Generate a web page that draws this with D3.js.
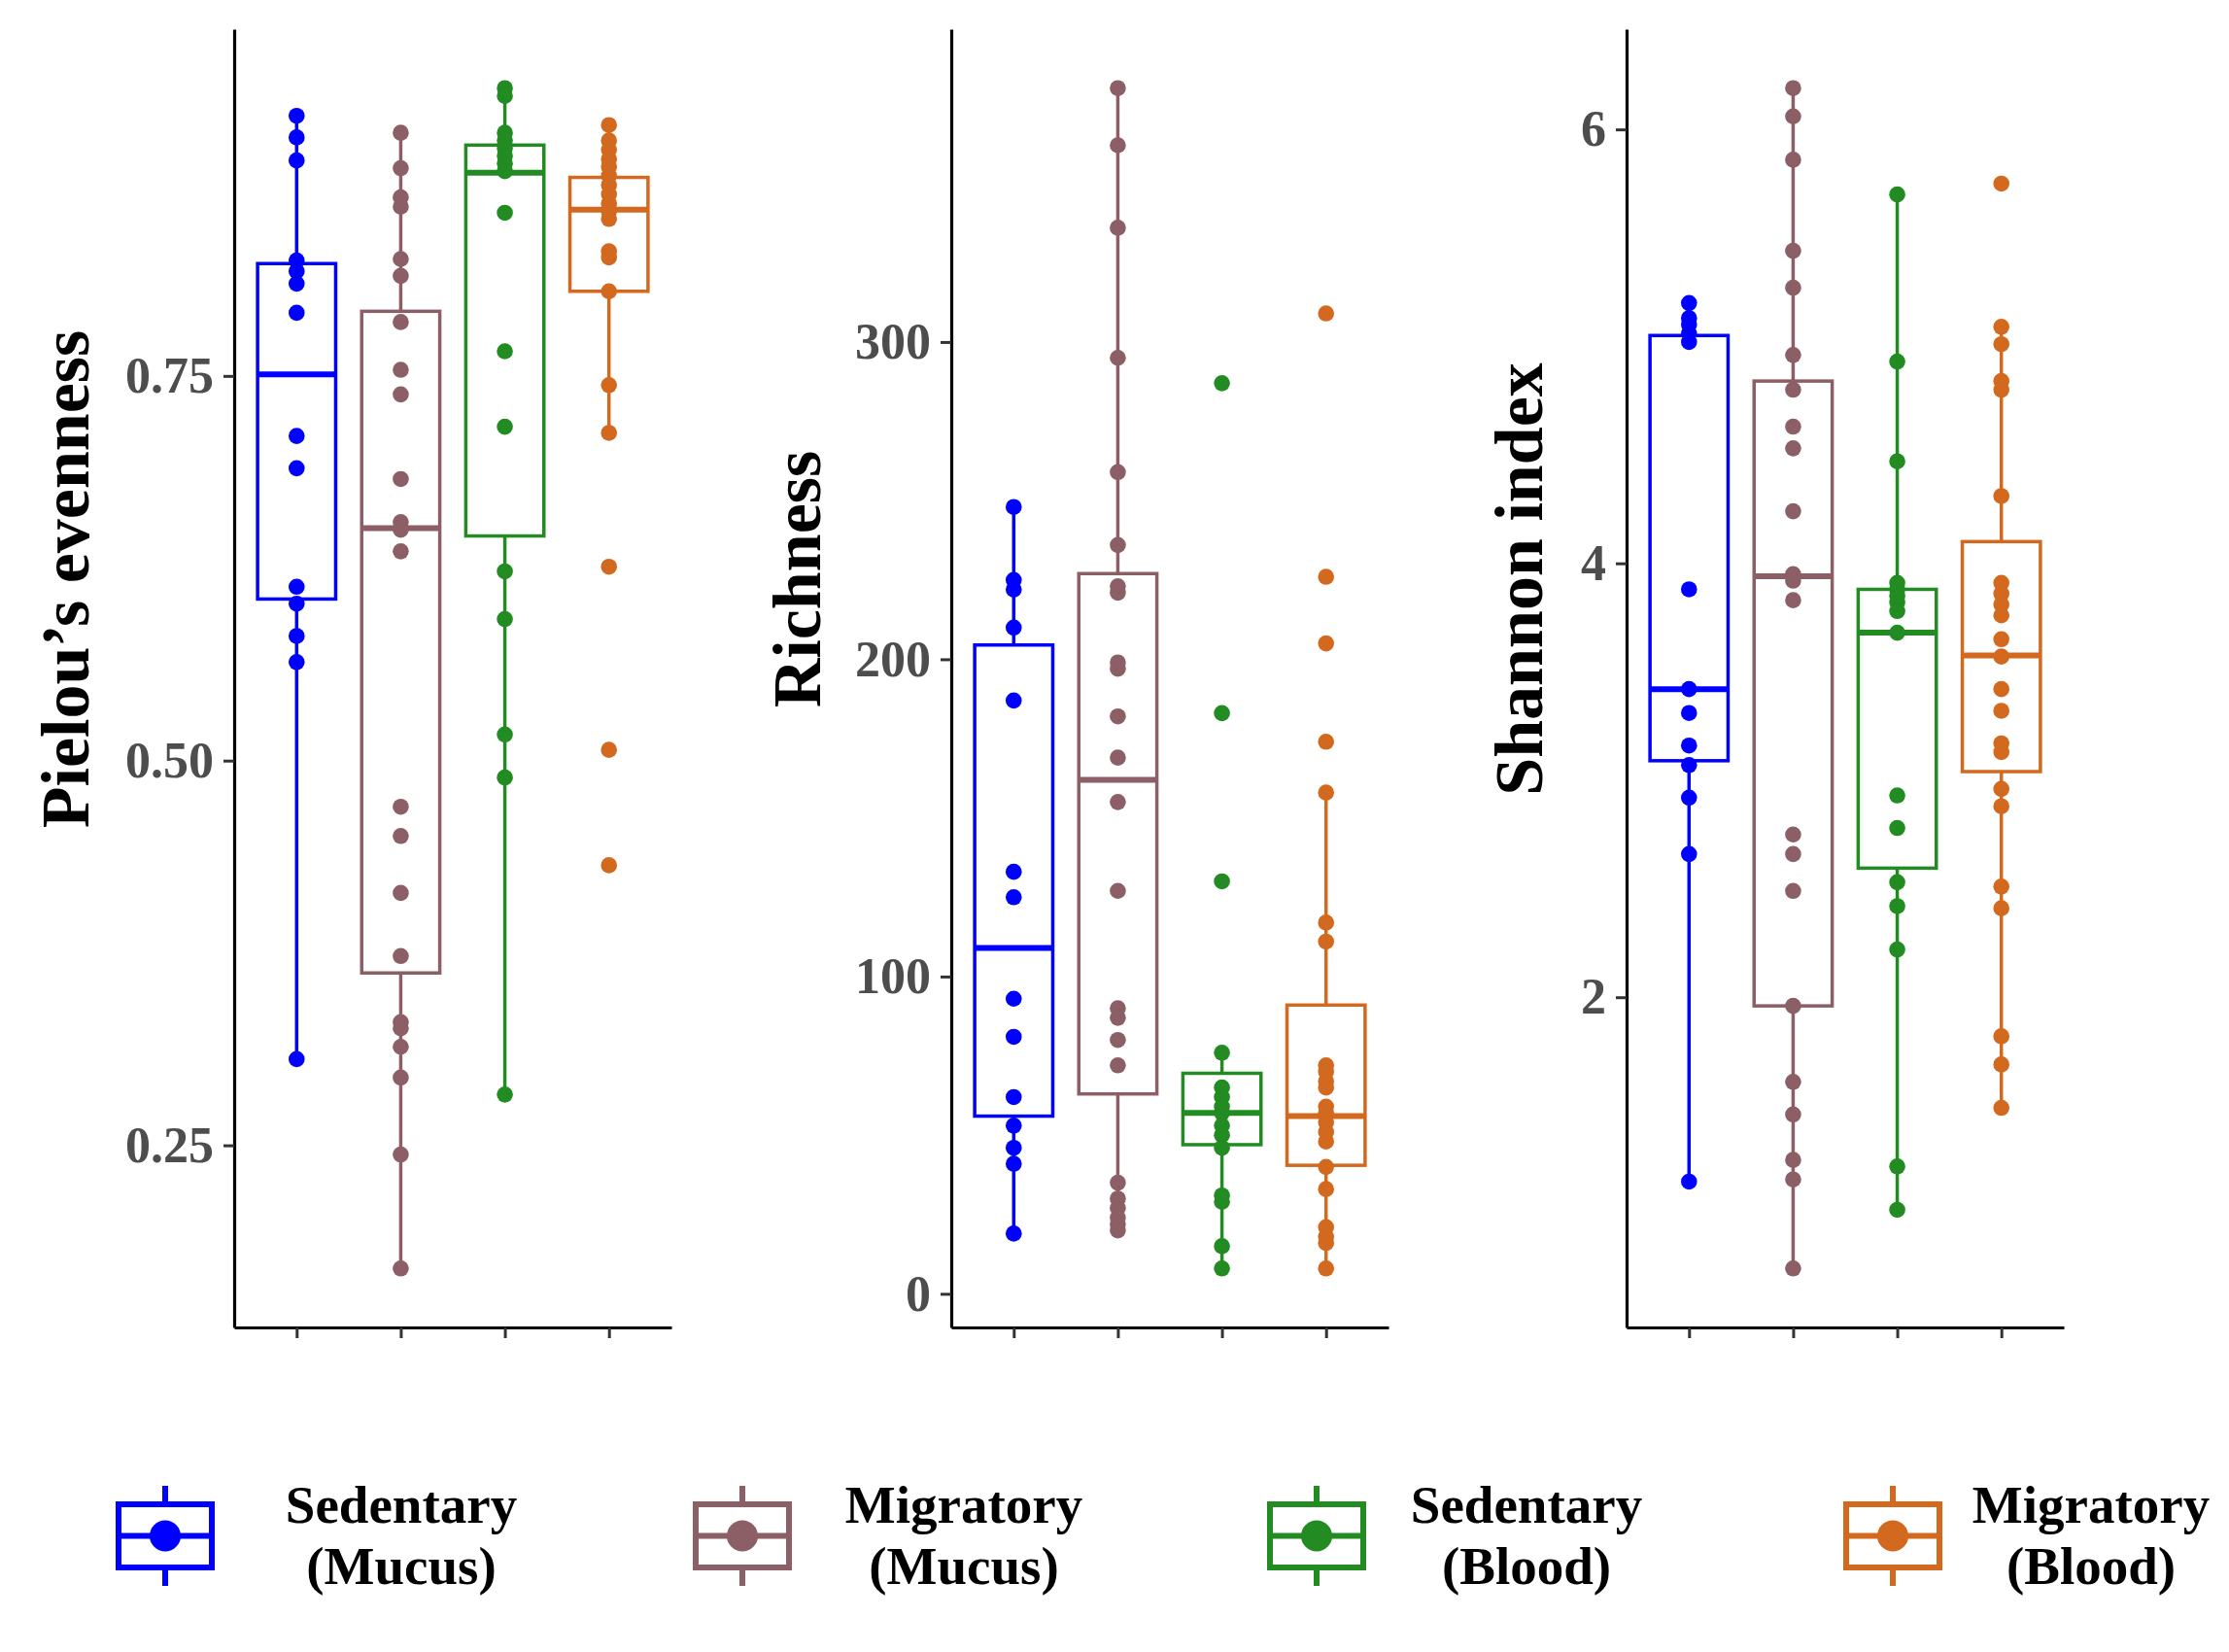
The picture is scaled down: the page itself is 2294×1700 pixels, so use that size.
<!DOCTYPE html>
<html>
<head>
<meta charset="utf-8">
<script src="https://cdn.jsdelivr.net/npm/d3@7"></script>
<style>
  html, body { margin: 0; padding: 0; background: #ffffff; }
  svg { display: block; }
</style>
</head>
<body>
<script>
// ---------------- DATA ----------------
const categories = ["Sedentary (Mucus)", "Migratory (Mucus)", "Sedentary (Blood)", "Migratory (Blood)"];
const legendLine1 = ["Sedentary", "Migratory", "Sedentary", "Migratory"];
const legendLine2 = ["(Mucus)", "(Mucus)", "(Blood)", "(Blood)"];
const groupColors = ["#0000FF", "#8B5F65", "#228B22", "#D2691E"];

// Pielou's evenness
const pielouPoints = [
  [0.919, 0.905, 0.890, 0.825, 0.818, 0.810, 0.791, 0.711, 0.690, 0.613, 0.602, 0.581, 0.564, 0.306],
  [0.908, 0.885, 0.866, 0.860, 0.826, 0.815, 0.785, 0.754, 0.738, 0.683, 0.655, 0.650, 0.636, 0.470, 0.451, 0.414, 0.373, 0.330, 0.326, 0.314, 0.294, 0.244, 0.170],
  [0.937, 0.932, 0.908, 0.903, 0.898, 0.893, 0.888, 0.883, 0.856, 0.766, 0.717, 0.623, 0.592, 0.517, 0.489, 0.283],
  [0.913, 0.903, 0.897, 0.891, 0.886, 0.880, 0.874, 0.868, 0.862, 0.857, 0.852, 0.831, 0.827, 0.805, 0.744, 0.713, 0.626, 0.507, 0.432]
];
// [lower whisker, Q1, median, Q3, upper whisker]
const pielouStats = [
  [0.306, 0.605, 0.751, 0.823, 0.919],
  [0.170, 0.362, 0.651, 0.792, 0.908],
  [0.283, 0.646, 0.882, 0.900, 0.937],
  [0.713, 0.805, 0.858, 0.879, 0.913]
];
const pielouTicks = [0.25, 0.50, 0.75];
const pielouTickLabels = ["0.25", "0.50", "0.75"];

// Richness
const richnessPoints = [
  [248, 225, 222, 210, 187, 133, 125, 93, 81, 62, 53, 46, 41, 19],
  [380, 362, 336, 295, 259, 236, 223, 221, 199, 197, 182, 169, 155, 127, 90, 87, 80, 72, 35, 30, 27, 24, 22, 20],
  [287, 183, 130, 76, 65, 62, 59, 57, 53, 50, 46, 31, 29, 15, 8],
  [309, 226, 205, 174, 158, 117, 111, 72, 70, 67, 65, 59, 57, 54, 51, 48, 40, 33, 21, 18, 16, 8]
];
const richnessStats = [
  [19, 56, 109, 204.5, 248],
  [20, 63, 162, 227, 380],
  [8, 47, 57, 69.5, 76],
  [8, 40.5, 56, 91, 158]
];
const richnessTicks = [0, 100, 200, 300];
const richnessTickLabels = ["0", "100", "200", "300"];

// Shannon index
const shannonPoints = [
  [5.20, 5.13, 5.10, 5.06, 5.02, 3.88, 3.42, 3.31, 3.16, 3.07, 2.92, 2.66, 1.15],
  [6.19, 6.06, 5.86, 5.44, 5.27, 4.96, 4.80, 4.63, 4.53, 4.24, 3.95, 3.92, 3.83, 2.75, 2.66, 2.49, 1.96, 1.61, 1.46, 1.25, 1.16, 0.75],
  [5.70, 4.93, 4.47, 3.91, 3.88, 3.85, 3.82, 3.78, 3.68, 2.93, 2.78, 2.53, 2.42, 2.22, 1.22, 1.02],
  [5.75, 5.09, 5.01, 4.84, 4.80, 4.31, 3.91, 3.86, 3.81, 3.76, 3.65, 3.57, 3.42, 3.32, 3.17, 3.13, 2.96, 2.88, 2.51, 2.41, 1.82, 1.69, 1.49]
];
const shannonStats = [
  [1.15, 3.09, 3.42, 5.05, 5.20],
  [0.75, 1.96, 3.94, 4.84, 6.19],
  [1.02, 2.595, 3.68, 3.88, 5.70],
  [1.49, 3.04, 3.575, 4.10, 5.09]
];
const shannonTicks = [2, 4, 6];
const shannonTickLabels = ["2", "4", "6"];

const panelTitles = ["Pielou\u2019s evenness", "Richness", "Shannon index"];

// ---------------- LAYOUT ----------------
const W = 2294, H = 1700;
const FONT = "'Liberation Serif', 'Times New Roman', Times, serif";
const panelLeft = [241, 979, 1674];
const panelWidth = 450;
const panelTop = 30, panelBottom = 1366;
const titleX = [91, 844, 1587];
const titleY = 596;

const panels = [
  { points: pielouPoints, stats: pielouStats, ticks: pielouTicks, labels: pielouTickLabels },
  { points: richnessPoints, stats: richnessStats, ticks: richnessTicks, labels: richnessTickLabels },
  { points: shannonPoints, stats: shannonStats, ticks: shannonTicks, labels: shannonTickLabels }
];

const svg = d3.select("body").append("svg")
  .attr("width", W).attr("height", H)
  .attr("viewBox", `0 0 ${W} ${H}`);

svg.append("rect").attr("width", W).attr("height", H).attr("fill", "#ffffff");

const x = d3.scalePoint().domain(categories).range([0, panelWidth]).padding(0.6);
const boxW = x.step() * 0.75;

panels.forEach((p, pi) => {
  const all = p.points.flat();
  const ext = d3.extent(all);
  const pad = (ext[1] - ext[0]) * 0.05;
  const y = d3.scaleLinear().domain([ext[0] - pad, ext[1] + pad]).range([panelBottom, panelTop]);

  const g = svg.append("g").attr("transform", `translate(${panelLeft[pi]},0)`);

  // boxes
  categories.forEach((c, ci) => {
    const s = p.stats[ci];
    const cx = x(c);
    const col = groupColors[ci];
    const bg = g.append("g");
    // whiskers
    bg.append("line").attr("x1", cx).attr("x2", cx)
      .attr("y1", y(s[3])).attr("y2", y(s[4]))
      .attr("stroke", col).attr("stroke-width", 3.5);
    bg.append("line").attr("x1", cx).attr("x2", cx)
      .attr("y1", y(s[1])).attr("y2", y(s[0]))
      .attr("stroke", col).attr("stroke-width", 3.5);
    // box
    bg.append("rect")
      .attr("x", cx - boxW / 2).attr("width", boxW)
      .attr("y", y(s[3])).attr("height", y(s[1]) - y(s[3]))
      .attr("fill", "#ffffff").attr("stroke", col).attr("stroke-width", 3.5);
    // median
    bg.append("line")
      .attr("x1", cx - boxW / 2).attr("x2", cx + boxW / 2)
      .attr("y1", y(s[2])).attr("y2", y(s[2]))
      .attr("stroke", col).attr("stroke-width", 6);
    // points
    bg.selectAll("circle").data(p.points[ci]).join("circle")
      .attr("cx", cx).attr("cy", d => y(d)).attr("r", 8.3)
      .attr("fill", col);
  });

  // y axis
  const yAxis = d3.axisLeft(y).tickValues(p.ticks)
    .tickFormat((d, i) => p.labels[i]).tickSize(11).tickSizeOuter(0).tickPadding(10);
  const ya = g.append("g").call(yAxis);
  ya.select(".domain").attr("stroke", "#000").attr("stroke-width", 3.2);
  ya.selectAll(".tick line").attr("stroke", "#333").attr("stroke-width", 3);
  ya.selectAll(".tick text")
    .attr("fill", "#4D4D4D")
    .style("font-family", FONT).style("font-weight", "bold").style("font-size", "52px");

  // x axis
  const xAxis = d3.axisBottom(x).tickFormat("").tickSize(11).tickSizeOuter(0);
  const xa = g.append("g").attr("transform", `translate(0,${panelBottom})`).call(xAxis);
  xa.select(".domain").attr("stroke", "#000").attr("stroke-width", 3.2);
  xa.selectAll(".tick line").attr("stroke", "#333").attr("stroke-width", 3);

  // axis title
  svg.append("text")
    .attr("transform", `translate(${titleX[pi]},${titleY}) rotate(-90)`)
    .attr("text-anchor", "middle")
    .style("font-family", FONT).style("font-weight", "bold").style("font-size", "70px")
    .attr("fill", "#000")
    .text(panelTitles[pi]);
});

// ---------------- LEGEND ----------------
const keyX = [170, 764, 1355, 1948];
const textX = [413, 992, 1571, 2152];
const keyW = 96, keyH = 65, keyTop = 1548, whisk = 19;
categories.forEach((c, i) => {
  const col = groupColors[i];
  const lg = svg.append("g");
  const kx = keyX[i];
  lg.append("line").attr("x1", kx).attr("x2", kx).attr("y1", keyTop - whisk).attr("y2", keyTop)
    .attr("stroke", col).attr("stroke-width", 6);
  lg.append("line").attr("x1", kx).attr("x2", kx).attr("y1", keyTop + keyH).attr("y2", keyTop + keyH + whisk)
    .attr("stroke", col).attr("stroke-width", 6);
  lg.append("rect").attr("x", kx - keyW / 2).attr("y", keyTop).attr("width", keyW).attr("height", keyH)
    .attr("fill", "#fff").attr("stroke", col).attr("stroke-width", 6);
  lg.append("line").attr("x1", kx - keyW / 2).attr("x2", kx + keyW / 2)
    .attr("y1", keyTop + keyH / 2).attr("y2", keyTop + keyH / 2)
    .attr("stroke", col).attr("stroke-width", 6);
  lg.append("circle").attr("cx", kx).attr("cy", keyTop + keyH / 2).attr("r", 16).attr("fill", col);

  const t = lg.append("text")
    .attr("text-anchor", "middle")
    .style("font-family", FONT).style("font-weight", "bold").style("font-size", "55px")
    .attr("fill", "#000");
  t.append("tspan").attr("x", textX[i]).attr("y", 1567).text(legendLine1[i]);
  t.append("tspan").attr("x", textX[i]).attr("y", 1630).text(legendLine2[i]);
});
</script>
</body>
</html>
